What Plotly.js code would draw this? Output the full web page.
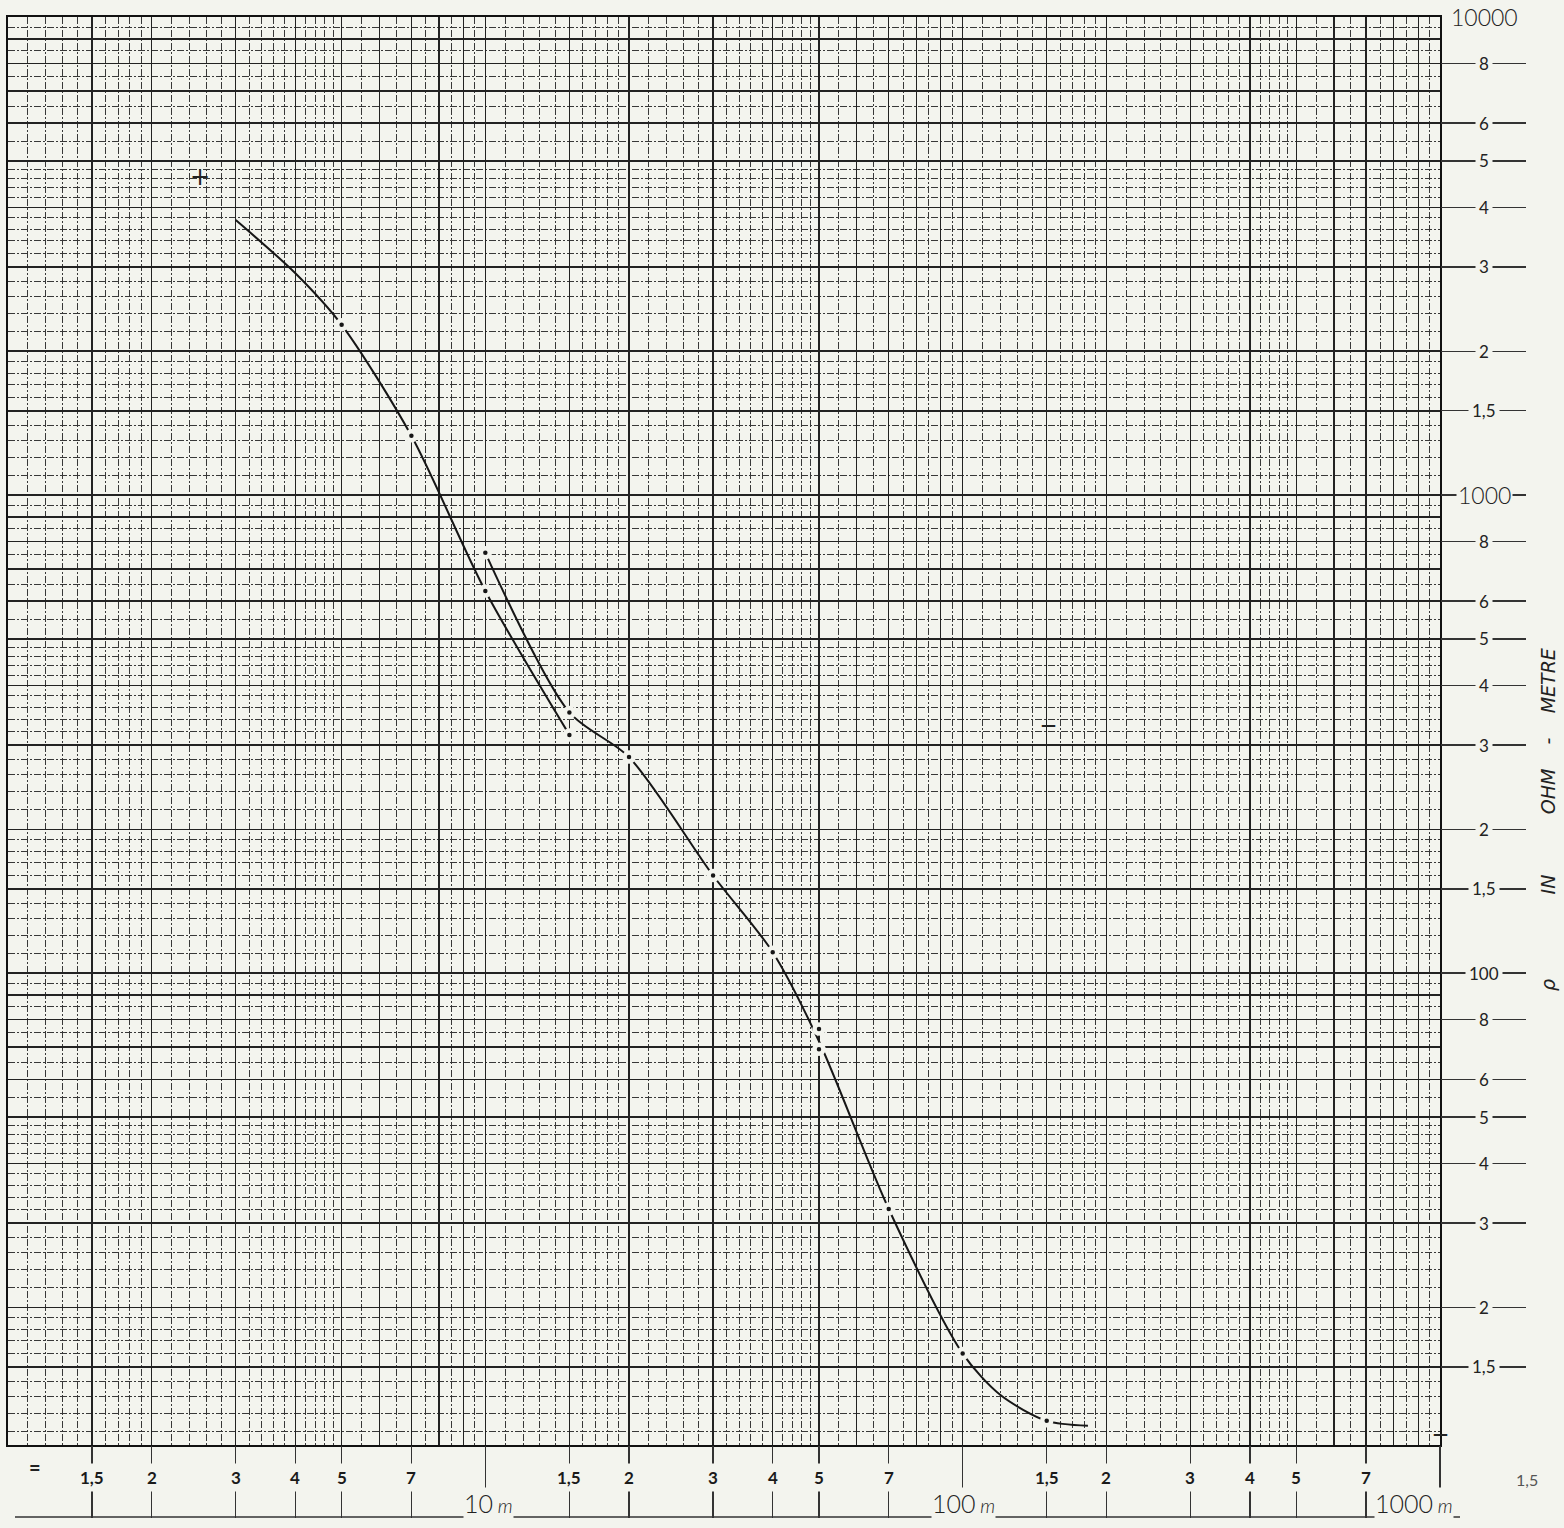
<!DOCTYPE html>
<html><head><meta charset="utf-8">
<script src="https://cdn.plot.ly/plotly-3.0.1.min.js"></script>
<style>html,body{margin:0;padding:0;background:#f3f4ee;}</style>
</head><body><div id="chart" style="width:1564px;height:1528px;"></div>
<script>
// ---------------- data ----------------
// left branch of the sounding curve (AB/2 in m, rho in ohm-metre)
const branchA_x = [3, 4, 5, 7, 10, 15];
const branchA_y = [3760, 2910, 2270, 1330, 630, 315];
// right branch of the sounding curve
const branchB_x = [10, 15, 20, 30, 40, 50, 70, 100, 120, 150, 183];
const branchB_y = [757, 351, 283, 160, 110.6, 72, 32.1, 16.0, 13.1, 11.57, 11.3];
// measured points (dots)
const dots_x = [5, 7, 10, 10, 15, 15, 20, 30, 40, 50, 50, 70, 100, 150];
const dots_y = [2270, 1330, 630, 757, 315, 351, 283, 160, 110.6, 76.4, 69.3, 32.1, 16.0, 11.57];
// loose pencil marks on the sheet
const marks_x = [2.53, 151, 1000];
const marks_y = [4624, 330, 10.85];
const marks_t = ['+', '—', '—'];

// tick labels
const xTickVals = [1.5, 2, 3, 4, 5, 7, 10, 15, 20, 30, 40, 50, 70, 100, 150, 200, 300, 400, 500, 700, 1000];
const xTickText = ['1,5', '2', '3', '4', '5', '7', '10', '1,5', '2', '3', '4', '5', '7', '100', '1,5', '2', '3', '4', '5', '7', '1000'];
const xExtraVal = 1500, xExtraText = '1,5';
const yTickVals = [10000, 8000, 6000, 5000, 4000, 3000, 2000, 1500, 1000, 800, 600, 500, 400, 300, 200, 150, 100, 80, 60, 50, 40, 30, 20, 15];
const yTickText = ['10000', '8', '6', '5', '4', '3', '2', '1,5', '1000', '8', '6', '5', '4', '3', '2', '1,5', '100', '8', '6', '5', '4', '3', '2', '1,5'];
const yTitleParts = ['ρ', 'IN', 'OHM', '-', 'METRE'];

// ---------------- style ----------------
const BG = '#f3f4ee';
const INK = '#161616';
const X_RANGE = [0, 3];
const Y_RANGE = [Math.log10(10.3), 4];
const heavyM = [1, 1.5, 2, 3, 4, 5, 6, 7, 8, 9];
const lightM = [1.1, 1.2, 1.3, 1.4, 1.6, 1.7, 1.8, 1.9, 2.2, 2.4, 2.6, 2.8, 3.2, 3.4, 3.6, 3.8,
                4.2, 4.4, 4.6, 4.8, 5.5, 6.5, 7.5, 8.5, 9.5];
function gridVals(ms, decs, last) {
  const out = [];
  decs.forEach(d => ms.forEach(m => out.push(+(m * d).toPrecision(6))));
  out.push(last);
  return out;
}
const xHeavy = gridVals(heavyM, [1, 10, 100], 1000);
const xLight = gridVals(lightM, [1, 10, 100], 1000);
const yHeavy = gridVals(heavyM, [10, 100, 1000], 10000);
const yLight = gridVals(lightM, [10, 100, 1000], 10000);

const L = 8, R = 124, T = 17, B = 83, W = 1564, H = 1528;
const PW = W - L - R, PH = H - T - B;
const px2paperX = p => (p - L) / PW;
const px2paperY = q => (H - B - q) / PH;

const traces = [
  { x: branchA_x, y: branchA_y, type: 'scatter', mode: 'lines',
    line: { color: INK, width: 2, shape: 'spline', smoothing: 0.8 } },
  { x: branchB_x, y: branchB_y, type: 'scatter', mode: 'lines',
    line: { color: INK, width: 2, shape: 'spline', smoothing: 0.8 } },
  { x: dots_x, y: dots_y, type: 'scatter', mode: 'markers',
    marker: { color: INK, size: 9, line: { color: BG, width: 4.5 } } },
  { x: [], y: [], xaxis: 'x2', yaxis: 'y', type: 'scatter' },
  { x: [], y: [], xaxis: 'x', yaxis: 'y2', type: 'scatter' }
];

const annotations = [];
const labFont = 'Lato, "Open Sans", sans-serif';
// y labels
yTickVals.forEach((v, i) => {
  const big = yTickText[i].length > 3;
  annotations.push({
    xref: 'paper', yref: 'y', x: px2paperX(1484), y: Math.log10(v),
    text: yTickText[i], showarrow: false, xanchor: 'center', yanchor: 'middle',
    bgcolor: BG, borderpad: big ? 1 : 3,
    font: { family: labFont, size: big ? 23 : 17, color: '#222', weight: big ? 300 : 400 }
  });
});
// x labels
xTickVals.forEach((v, i) => {
  const dec = xTickText[i].length >= 2 && xTickText[i].indexOf(',') < 0;
  if (dec) {
    annotations.push({
      xref: 'x', yref: 'paper', x: Math.log10(v), y: px2paperY(1503),
      text: xTickText[i] + '<span style="font-size:19px"><i> m</i></span>',
      showarrow: false, xanchor: v === 1000 ? 'right' : 'left', xshift: v === 1000 ? 14 : (v === 100 ? -32 : -22),
      yanchor: 'middle', bgcolor: BG, borderpad: 0,
      font: { family: labFont, size: 25, color: '#222', weight: 300 }
    });
  } else {
    annotations.push({
      xref: 'x', yref: 'paper', x: Math.log10(v), y: px2paperY(1478),
      text: xTickText[i], showarrow: false, xanchor: 'center', yanchor: 'middle',
      bgcolor: BG, borderpad: 3,
      font: { family: labFont, size: 17, color: '#1a1a1a', weight: 700 }
    });
  }
});
annotations.push({
  xref: 'paper', yref: 'paper',
  x: (Math.log10(xExtraVal) - X_RANGE[0]) / (X_RANGE[1] - X_RANGE[0]), y: px2paperY(1480),
  text: xExtraText, showarrow: false, xanchor: 'center', yanchor: 'middle', xshift: 3,
  font: { family: labFont, size: 16, color: '#555' }
});
annotations.push({
  xref: 'paper', yref: 'paper', x: px2paperX(27), y: px2paperY(1481),
  text: '=', showarrow: false, font: { family: labFont, size: 20, color: '#222', weight: 700 }
});
// pencil marks
marks_x.forEach((v, i) => {
  const plus = marks_t[i] === '+';
  annotations.push({
    xref: 'x', yref: 'y', x: Math.log10(v), y: Math.log10(marks_y[i]),
    text: marks_t[i], showarrow: false, xanchor: 'center', yanchor: 'middle',
    font: { family: 'DejaVu Sans', size: plus ? 24 : 15, color: '#222', weight: plus ? 400 : 700 }
  });
});
// axis title (widely spaced, hand lettered)
const gaps = [14, 10, 4, 4].map(n => '&nbsp;'.repeat(n));
const yTitle = yTitleParts.reduce((s, p, i) => i === 0 ? p : s + gaps[i - 1] + p, '');
annotations.push({
  xref: 'paper', yref: 'paper', x: px2paperX(1548), y: px2paperY(820),
  text: '<i>' + yTitle + '</i>', textangle: -90, showarrow: false,
  xanchor: 'center', yanchor: 'middle',
  font: { family: '"DejaVu Sans", sans-serif', size: 19, color: '#222' }
});

const shapes = [
  // baseline under x labels
  { type: 'line', xref: 'paper', yref: 'paper', x0: px2paperX(15), x1: px2paperX(1460),
    y0: px2paperY(1517), y1: px2paperY(1517), line: { color: '#333', width: 1.5 } },
  // dotted vertical at 1500 m
  { type: 'line', xref: 'x', yref: 'paper', x0: xExtraVal, x1: xExtraVal,
    y0: 1, y1: px2paperY(1517), line: { color: '#777', width: 1, dash: 'dot' } }
];

const layout = {
  width: W, height: H,
  margin: { l: L, r: R, t: T, b: B, pad: 0 },
  paper_bgcolor: BG, plot_bgcolor: BG,
  showlegend: false,
  xaxis: {
    type: 'log', range: X_RANGE, tickmode: 'array', tickvals: xHeavy,
    showticklabels: false, ticks: '', showgrid: true, gridcolor: '#222', gridwidth: 1.3,
    showline: true, mirror: true, linecolor: '#111', linewidth: 2, zeroline: false,
    minor: { tickmode: 'array', tickvals: xLight, showgrid: true, gridcolor: '#383838',
             gridwidth: 1, griddash: '7px,2px,2px,2px', ticks: '' }
  },
  yaxis: {
    type: 'log', range: Y_RANGE, tickmode: 'array', tickvals: yHeavy,
    showticklabels: false, ticks: '', showgrid: true, gridcolor: '#222', gridwidth: 1.3,
    showline: true, mirror: true, linecolor: '#111', linewidth: 2, zeroline: false,
    minor: { tickmode: 'array', tickvals: yLight, showgrid: true, gridcolor: '#383838',
             gridwidth: 1, griddash: '7px,2px,2px,2px', ticks: '' }
  },
  xaxis2: {
    type: 'log', range: X_RANGE, overlaying: 'x', anchor: 'y', side: 'bottom',
    tickmode: 'array', tickvals: xTickVals, ticks: 'outside', ticklen: 72,
    tickcolor: '#333', tickwidth: 1.2, showticklabels: false, showgrid: false,
    showline: false, zeroline: false
  },
  yaxis2: {
    type: 'log', range: Y_RANGE, overlaying: 'y', anchor: 'x', side: 'right',
    tickmode: 'array', tickvals: yTickVals.slice(1), ticks: 'outside', ticklen: 85,
    tickcolor: '#333', tickwidth: 1.2, showticklabels: false, showgrid: false,
    showline: false, zeroline: false
  },
  annotations: annotations,
  shapes: shapes
};

Plotly.newPlot('chart', traces, layout, { staticPlot: true });
</script>
</body></html>
